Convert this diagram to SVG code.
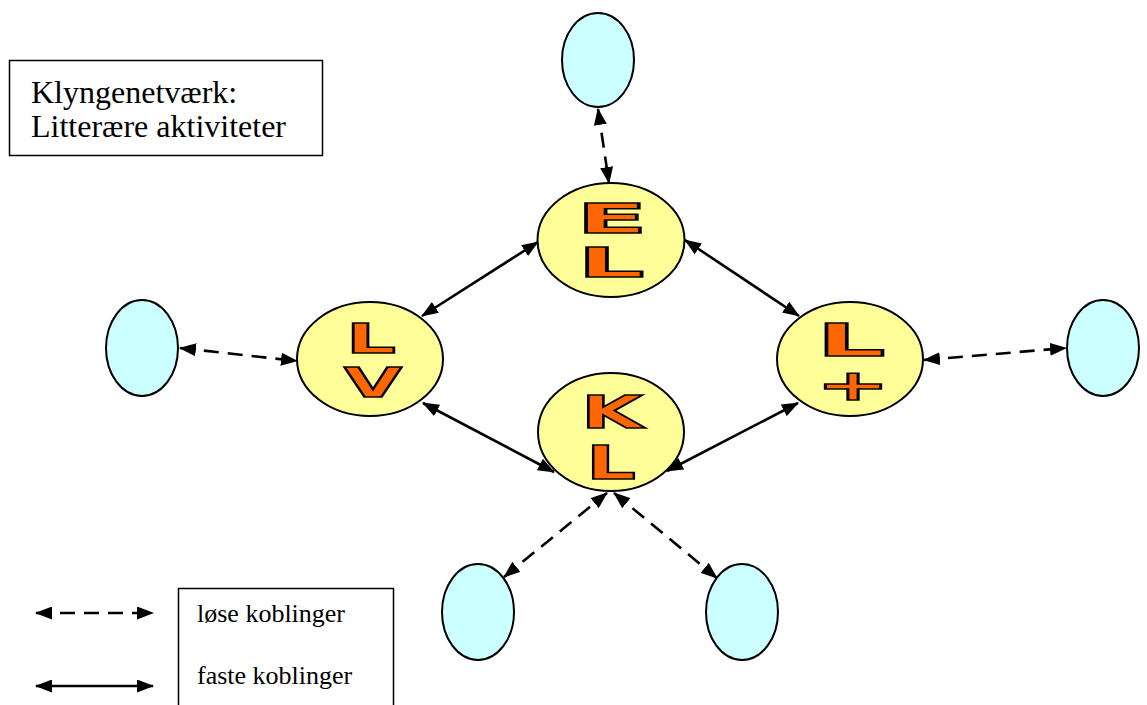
<svg xmlns="http://www.w3.org/2000/svg" width="1147" height="705" viewBox="0 0 1147 705">
<style>
.bg{fill:#ffffff}
.y{fill:#FFFF99;stroke:#000;stroke-width:2}
.b{fill:#CCFFFF;stroke:#000;stroke-width:2}
.box{fill:#fff;stroke:#000;stroke-width:1.5}
.lt{font-family:"DejaVu Sans",sans-serif;font-weight:bold;fill:#FF6600;stroke:#000;stroke-width:1.5;text-anchor:middle}
.tx{font-family:"Liberation Serif","Times New Roman",serif;fill:#000}
.c{fill:none;stroke:#000;stroke-width:2.6;marker-start:url(#ah);marker-end:url(#ah)}
.d{stroke-dasharray:15 9}
</style>
<defs>
<marker id="ah" viewBox="0 0 17 13" refX="16" refY="6.5" markerWidth="17" markerHeight="13" markerUnits="userSpaceOnUse" orient="auto-start-reverse">
<path d="M0,0 L17,6.5 L0,13 z" fill="#000"/>
</marker>
</defs>
<rect class="bg" x="0" y="0" width="1147" height="705"/>

<g id="title">
<rect class="box" x="9.5" y="60.5" width="313" height="95"/>
<text class="tx" x="31" y="103" font-size="32">Klyngenetværk:</text>
<text class="tx" x="31" y="137" font-size="32">Litterære aktiviteter</text>
</g>

<g id="connectors">
<line class="c d" x1="598" y1="109" x2="609" y2="183"/>
<line class="c d" x1="180" y1="348" x2="297" y2="361"/>
<line class="c d" x1="924" y1="360" x2="1066" y2="348"/>
<line class="c d" x1="504" y1="577" x2="607" y2="493"/>
<line class="c d" x1="614" y1="493" x2="717" y2="578"/>
<line class="c" x1="538" y1="242" x2="422" y2="316"/>
<line class="c" x1="685" y1="240" x2="799" y2="316"/>
<line class="c" x1="423" y1="403" x2="554" y2="472"/>
<line class="c" x1="798" y1="403" x2="667" y2="471"/>
</g>

<g id="node-top-blue"><ellipse class="b" cx="598" cy="60" rx="36" ry="47"/></g>
<g id="node-left-blue"><ellipse class="b" cx="142" cy="348" rx="36" ry="48"/></g>
<g id="node-right-blue"><ellipse class="b" cx="1103" cy="348" rx="36" ry="48"/></g>
<g id="node-bl-blue"><ellipse class="b" cx="478" cy="612" rx="36" ry="48"/></g>
<g id="node-br-blue"><ellipse class="b" cx="742" cy="612" rx="36" ry="48"/></g>

<g id="node-EL">
<ellipse class="y" cx="611" cy="240" rx="73.5" ry="57"/>
<text class="lt" x="612" y="233" font-size="41" textLength="71" lengthAdjust="spacingAndGlyphs">E</text>
<text class="lt" x="611" y="277" font-size="41" textLength="67" lengthAdjust="spacingAndGlyphs">L</text>
</g>

<g id="node-LV">
<ellipse class="y" cx="370" cy="359" rx="73" ry="57"/>
<text class="lt" x="371" y="353" font-size="41" textLength="50" lengthAdjust="spacingAndGlyphs">L</text>
<text class="lt" x="373" y="397" font-size="40" textLength="58" lengthAdjust="spacingAndGlyphs">V</text>
</g>

<g id="node-Lplus">
<ellipse class="y" cx="850" cy="359" rx="73" ry="57"/>
<text class="lt" x="851" y="356" font-size="44" textLength="69" lengthAdjust="spacingAndGlyphs">L</text>
<text class="lt" x="853" y="400" font-size="43" textLength="74" lengthAdjust="spacingAndGlyphs">+</text>
</g>

<g id="node-KL">
<ellipse class="y" cx="611" cy="432" rx="73" ry="59"/>
<text class="lt" x="612" y="428" font-size="44" textLength="62" lengthAdjust="spacingAndGlyphs">K</text>
<text class="lt" x="611" y="479" font-size="47" textLength="50" lengthAdjust="spacingAndGlyphs">L</text>
</g>

<g id="legend">
<line class="c d" x1="36" y1="613" x2="153" y2="613"/>
<line class="c" x1="36" y1="686" x2="153" y2="686"/>
<path class="box" d="M178.5,706 V588.5 H393.5 V706"/>
<text class="tx" x="197" y="622" font-size="26">løse koblinger</text>
<text class="tx" x="197" y="684" font-size="26">faste koblinger</text>
</g>
</svg>
